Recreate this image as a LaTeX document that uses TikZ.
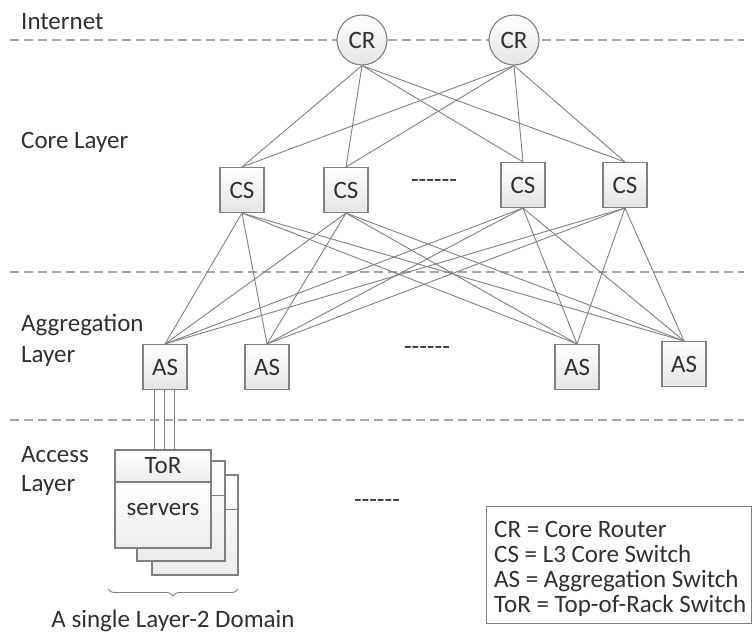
\documentclass[tikz,border=0pt]{standalone}
\usepackage{fontspec}
\setmainfont{Carlito}[Ligatures=TeXOff]
\usetikzlibrary{decorations.pathreplacing}

\definecolor{ink}{HTML}{303030}
\definecolor{edge}{HTML}{808080}
\definecolor{rule}{HTML}{A6A6A6}
\definecolor{shade}{HTML}{E4E4E4}

\begin{document}
\begin{tikzpicture}[x=1pt, y=-1pt,
  font=\fontsize{25}{27}\selectfont, text=ink,
  layerline/.style={draw=rule, line width=1.5pt, dash pattern=on 9pt off 5pt},
  link/.style={draw=edge, line width=0.9pt},
  router/.style={circle, draw=edge, line width=1.1pt, top color=white,
    bottom color=shade, minimum size=50pt, inner sep=0pt},
  switchbox/.style={rectangle, draw=edge, line width=1.1pt, top color=white,
    bottom color=shade, minimum width=44pt, minimum height=45pt, inner sep=0pt},
  rackpart/.style={rectangle, draw=edge, line width=1.1pt, top color=white,
    bottom color=shade!70, inner sep=0pt},
  layerlabel/.style={anchor=base west, inner sep=0pt},
  gap/.style={inner sep=0pt},
  keytext/.style={anchor=base west, inner sep=0pt},
]
\useasboundingbox (0,0) rectangle (753,634);

% layer separators
\coordinate (l1a) at (10,40);  \coordinate (l1b) at (744,40);
\coordinate (l2a) at (10,272); \coordinate (l2b) at (744,272);
\coordinate (l3a) at (10,420); \coordinate (l3b) at (744,420);
\draw[layerline] (l1a) -- (l1b);
\draw[layerline] (l2a) -- (l2b);
\draw[layerline] (l3a) -- (l3b);

% layer names
\node[layerlabel] (tInternet) at (21,30) {Internet};
\node[layerlabel] (tCore) at (21,148) {Core Layer};
\node[layerlabel] (tAgg1) at (21,331) {Aggregation};
\node[layerlabel] (tAgg2) at (21,362) {Layer};
\node[layerlabel] (tAcc1) at (21,462) {Access};
\node[layerlabel] (tAcc2) at (21,491) {Layer};

% core routers
\node[router] (cr1) at (362,40) {CR};
\node[router] (cr2) at (514,40) {CR};

% core switches
\node[switchbox] (cs1) at (242,190) {CS};
\node[switchbox] (cs2) at (346,190) {CS};
\node[switchbox] (cs3) at (523,185) {CS};
\node[switchbox] (cs4) at (625,185) {CS};
\node[gap] (csdots) at (434,184) {------};

% aggregation switches
\node[switchbox] (as1) at (165,367) {AS};
\node[switchbox] (as2) at (267,367) {AS};
\node[switchbox] (as3) at (577,367) {AS};
\node[switchbox] (as4) at (684,364) {AS};
\node[gap] (asdots) at (427,351) {------};

% router to core switch mesh
\foreach \r in {cr1,cr2}
  \foreach \s in {cs1,cs2,cs3,cs4}
    \draw[link] (\r.south) -- (\s.north);

% core switch to aggregation switch mesh
\foreach \s in {cs1,cs2,cs3,cs4}
  \foreach \a in {as1,as2,as3,as4}
    \draw[link] (\s.south) -- (\a.north);

% stacked racks, back to front
\node[rackpart, minimum width=86pt, minimum height=100pt] (rack3) at (195,525) {};
\draw[draw=edge, line width=1.1pt] ([yshift=-35pt]rack3.north west) -- ([yshift=-35pt]rack3.north east);
\node[rackpart, minimum width=88pt, minimum height=100pt] (rack2) at (181,511) {};
\draw[draw=edge, line width=1.1pt] ([yshift=-35pt]rack2.north west) -- ([yshift=-35pt]rack2.north east);
\node[rackpart, minimum width=96pt, minimum height=66pt] (srv) at (163,515) {};
\node[gap] at (163,510) {servers};
\node[rackpart, minimum width=96pt, minimum height=32pt] (tor) at (163,466) {ToR};

% uplinks from the rack switch
\foreach \dx in {-11,-1,9}
  \draw[link] ([xshift=\dx pt]as1.south) -- ([xshift=\dx pt]as1.south |- tor.north);

\node[gap] (accdots) at (377,504) {------};

% domain brace
\coordinate (brA) at (108,589);
\coordinate (brB) at (238,589);
\draw[draw=edge, line width=0.9pt, decorate,
  decoration={brace, amplitude=7pt, mirror}] (brA) -- (brB);
\node[anchor=base, inner sep=0pt] (domain) at (173,627) {A single Layer-2 Domain};

% key
\node[draw=edge, line width=1.2pt, fill=white, anchor=north west,
  minimum width=265pt, minimum height=117pt, inner sep=0pt] (key) at (486,506) {};
\node[keytext] (k1) at (494,537) {CR = Core Router};
\node[keytext] (k2) at (494,562) {CS = L3 Core Switch};
\node[keytext] (k3) at (494,587) {AS = Aggregation Switch};
\node[keytext] (k4) at (494,612) {ToR = Top-of-Rack Switch};
\end{tikzpicture}
\end{document}
